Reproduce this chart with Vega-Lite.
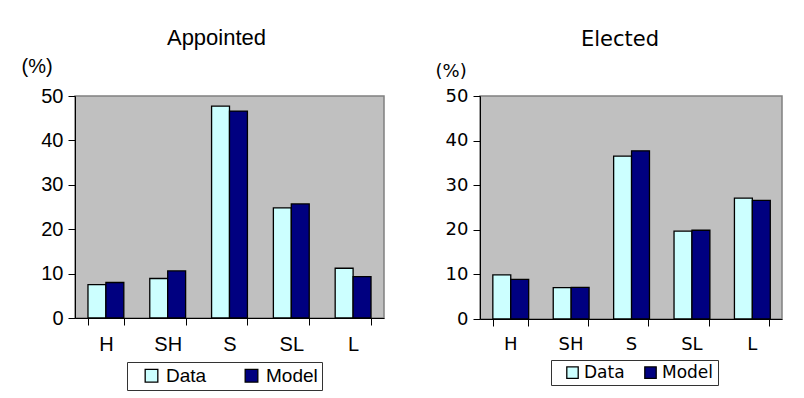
{
  "$schema": "https://vega.github.io/schema/vega-lite/v6.json",
  "background": "white",
  "padding": {"left": 20, "top": 26, "right": 5, "bottom": 2},
  "spacing": 49,
  "datasets": {
    "appointed": [
      {"cat": "H", "series": "Data", "value": 7.5},
      {"cat": "H", "series": "Model", "value": 8.0},
      {"cat": "SH", "series": "Data", "value": 8.9},
      {"cat": "SH", "series": "Model", "value": 10.6},
      {"cat": "S", "series": "Data", "value": 47.7},
      {"cat": "S", "series": "Model", "value": 46.6},
      {"cat": "SL", "series": "Data", "value": 24.8},
      {"cat": "SL", "series": "Model", "value": 25.7},
      {"cat": "L", "series": "Data", "value": 11.2},
      {"cat": "L", "series": "Model", "value": 9.3}
    ],
    "elected": [
      {"cat": "H", "series": "Data", "value": 9.9},
      {"cat": "H", "series": "Model", "value": 8.9},
      {"cat": "SH", "series": "Data", "value": 7.05},
      {"cat": "SH", "series": "Model", "value": 7.1},
      {"cat": "S", "series": "Data", "value": 36.5},
      {"cat": "S", "series": "Model", "value": 37.7},
      {"cat": "SL", "series": "Data", "value": 19.7},
      {"cat": "SL", "series": "Model", "value": 19.9},
      {"cat": "L", "series": "Data", "value": 27.1},
      {"cat": "L", "series": "Model", "value": 26.6}
    ]
  },
  "config": {
    "view": {"fill": "#c0c0c0", "stroke": "#808080", "strokeWidth": 1.5},
    "axis": {"domainColor": "black", "tickColor": "black", "labelColor": "black", "titleColor": "black", "grid": false, "tickSize": 7, "titleFontWeight": "normal"},
    "legend": {"orient": "none", "direction": "horizontal", "title": null, "strokeColor": "#333333", "fillColor": "white", "symbolType": "square", "symbolStrokeColor": "black", "symbolStrokeWidth": 1.3, "symbolOpacity": 1, "labelColor": "black"}
  },
  "resolve": {"scale": {"color": "independent"}, "legend": {"color": "independent"}},
  "hconcat": [
    {
      "width": 309,
      "height": 222,
      "data": {"name": "appointed"},
      "title": {"text": "Appointed", "font": "Liberation Sans", "fontSize": 22, "fontWeight": "normal", "color": "black", "anchor": "middle", "frame": "group", "dx": -13, "baseline": "alphabetic", "offset": -11},
      "mark": {"type": "bar", "stroke": "black", "strokeWidth": 1.3},
      "encoding": {
        "x": {"field": "cat", "type": "nominal", "sort": ["H", "SH", "S", "SL", "L"], "scale": {"paddingInner": 0.42, "paddingOuter": 0.21},
          "axis": {"title": null, "labelAngle": 0, "tickBand": "extent", "labelFont": "Liberation Sans", "labelFontSize": 20, "labelPadding": 9}},
        "xOffset": {"field": "series", "type": "nominal", "sort": ["Data", "Model"], "scale": {"paddingInner": 0}},
        "y": {"field": "value", "type": "quantitative", "scale": {"domain": [0, 50]},
          "axis": {"values": [0, 10, 20, 30, 40, 50], "title": "(%)", "titleAngle": 0, "titleX": -54, "titleY": -24, "titleAlign": "left", "titleBaseline": "alphabetic", "titleFont": "Liberation Sans", "titleFontSize": 20, "labelFont": "Liberation Sans", "labelFontSize": 20, "labelPadding": 5}},
        "color": {"field": "series", "type": "nominal", "scale": {"domain": ["Data", "Model"], "range": ["#ccffff", "#000080"]},
          "legend": {"legendX": 52, "legendY": 266, "padding": 4, "symbolOffset": 11, "symbolSize": 160, "labelFont": "Liberation Sans", "labelFontSize": 19, "labelOffset": 5, "columnPadding": 24}}
      }
    },
    {
      "width": 302,
      "height": 223,
      "data": {"name": "elected"},
      "title": {"text": "Elected", "font": "DejaVu Sans", "fontSize": 21, "fontWeight": "normal", "color": "black", "anchor": "middle", "frame": "group", "dx": -11, "baseline": "alphabetic", "offset": -5},
      "mark": {"type": "bar", "stroke": "black", "strokeWidth": 1.3},
      "encoding": {
        "x": {"field": "cat", "type": "nominal", "sort": ["H", "SH", "S", "SL", "L"], "scale": {"paddingInner": 0.425, "paddingOuter": 0.2125},
          "axis": {"title": null, "labelAngle": 0, "tickBand": "extent", "labelFont": "DejaVu Sans", "labelFontSize": 18, "labelPadding": 9}},
        "xOffset": {"field": "series", "type": "nominal", "sort": ["Data", "Model"], "scale": {"paddingInner": 0}},
        "y": {"field": "value", "type": "quantitative", "scale": {"domain": [0, 50]},
          "axis": {"values": [0, 10, 20, 30, 40, 50], "title": "(%)", "titleAngle": 0, "titleX": -45, "titleY": -20, "titleAlign": "left", "titleBaseline": "alphabetic", "titleFont": "DejaVu Sans", "titleFontSize": 18, "labelFont": "DejaVu Sans", "labelFontSize": 18, "labelPadding": 5}},
        "color": {"field": "series", "type": "nominal", "scale": {"domain": ["Data", "Model"], "range": ["#ccffff", "#000080"]},
          "legend": {"legendX": 71, "legendY": 264, "padding": 4, "symbolOffset": 9, "symbolSize": 130, "labelFont": "DejaVu Sans", "labelFontSize": 17, "labelOffset": 3, "columnPadding": 8}}
      }
    }
  ]
}
